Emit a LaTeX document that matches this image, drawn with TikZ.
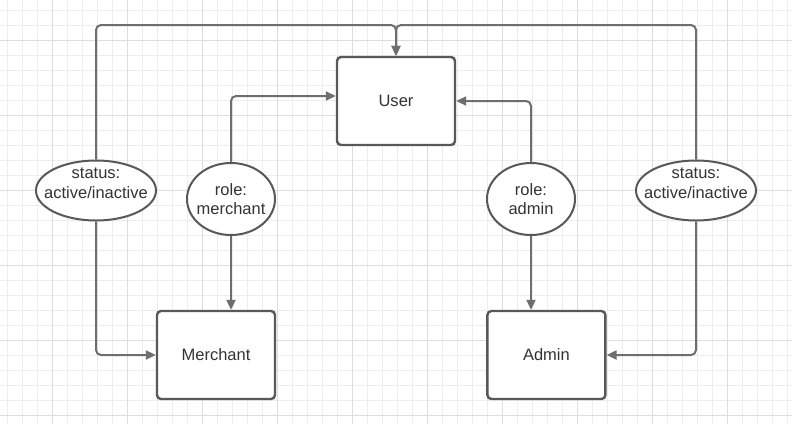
\documentclass[tikz,border=0pt]{standalone}
\usepackage{xcolor}
\usepackage{fontspec}
\setmainfont{Liberation Sans}
\usepackage{tikz}
\usetikzlibrary{shapes.geometric, arrows.meta, positioning, calc}
\definecolor{linegray}{HTML}{6E6E6E}
\definecolor{boxgray}{HTML}{585858}
\definecolor{textgray}{HTML}{333333}
\definecolor{gridfine}{HTML}{EDEDED}
\definecolor{gridmajor}{HTML}{DDDDDD}
\tikzstyle{entity} = [rectangle, rounded corners=4pt, minimum width=118pt, minimum height=88pt, draw=boxgray, line width=2.4pt, fill=white, text=textgray, font=\fontsize{16.5}{19}\selectfont]
\tikzstyle{attr} = [ellipse, draw=boxgray, line width=2pt, fill=white, inner sep=0pt]
\tikzstyle{attrtext} = [align=center, text=textgray, inner sep=0pt, font=\fontsize{16.5}{19.5}\selectfont]
\tikzstyle{arrow} = [line width=2pt, draw=linegray, rounded corners=5pt, -{Triangle[length=10pt,width=9pt]}]

\begin{document}
\begin{tikzpicture}[x=1pt, y=-1pt]
    \useasboundingbox (0,0) rectangle (792,424);
    \fill[white] (0,0) rectangle (792,424);

    % Raster
    \foreach \x in {7,22,...,787} \draw[gridfine, line width=1pt] (\x,0) -- (\x,424);
    \foreach \y in {10,25,...,420} \draw[gridfine, line width=1pt] (0,\y) -- (792,\y);
    \foreach \x in {52,127,...,727} \draw[gridmajor, line width=1pt] (\x,0) -- (\x,424);
    \foreach \y in {40,115,...,415} \draw[gridmajor, line width=1pt] (0,\y) -- (792,\y);

    % Entitaeten
    \node (user) [entity] at (396,101) {User};
    \node (merchant) [entity] at (216,355) {Merchant};
    \node (admin) [entity, right=210pt of merchant] {Admin};

    % Attribute
    \node (statusl) [attr, minimum width=120pt, minimum height=60pt] at (96,190.5) {};
    \node (statuslt) [attrtext] at (96,183) {status:\\active/inactive};
    \node (rolem) [attr, minimum width=88pt, minimum height=72pt] at (231,199) {};
    \node (rolemt) [attrtext] at (rolem) {role:\\merchant};
    \node (rolea) [attr, minimum width=88pt, minimum height=72pt] at (531,199) {};
    \node (roleat) [attrtext] at (rolea) {role:\\admin};
    \node (statusr) [attr, minimum width=120pt, minimum height=60pt] at (696,190.5) {};
    \node (statusrt) [attrtext] at (696,183) {status:\\active/inactive};

    % Pfeile
    \coordinate (top) at (396,25);
    \draw [arrow] (statusl.north) |- (top) -- (user.north);
    \draw [arrow] (statusr.north) |- (top) -- (user.north);
    \draw [arrow] (statusl.south) |- (merchant.west);
    \draw [arrow] (statusr.south) |- (admin.east);
    \draw [arrow] (rolem.north) |- ($(user.west)+(0,-5)$);
    \draw [arrow] (rolea.north) |- (user.east);
    \draw [arrow] (rolem.south) -- (rolem.south |- merchant.north);
    \draw [arrow] (rolea.south) -- (rolea.south |- admin.north);
\end{tikzpicture}
\end{document}
